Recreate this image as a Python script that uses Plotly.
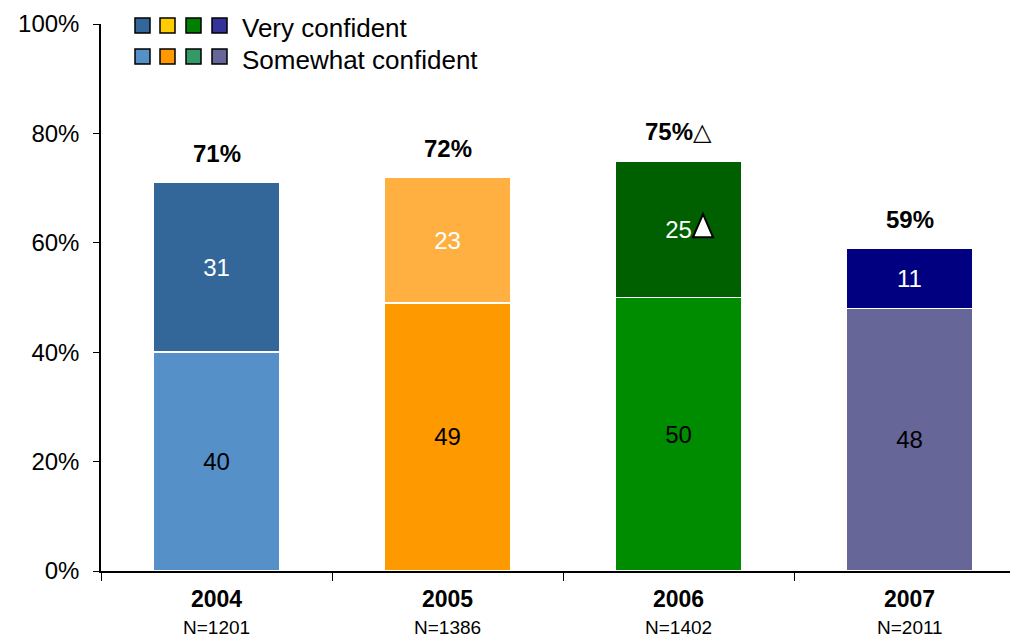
import plotly.graph_objects as go

# Survey results: share confident, by year
years = ["2004", "2005", "2006", "2007"]
sample_sizes = ["N=1201", "N=1386", "N=1402", "N=2011"]
somewhat = [40, 49, 50, 48]
very = [31, 23, 25, 11]
totals = [71, 72, 75, 59]
total_labels = ["71%", "72%", "75%△", "59%"]
y_ticks = [0, 20, 40, 60, 80, 100]

somewhat_colors = ["#5590C8", "#FF9900", "#008C00", "#666699"]
very_colors = ["#336699", "#FFB040", "#006000", "#000080"]

legend_very = ["#336699", "#FFCC00", "#008000", "#333399"]
legend_somewhat = ["#5591C9", "#FF9900", "#339966", "#666699"]

FONT = "Liberation Sans, Arial, DejaVu Sans, sans-serif"

fig = go.Figure()
fig.add_trace(go.Bar(
    x=years, y=somewhat, name="Somewhat confident",
    marker=dict(color=somewhat_colors, line=dict(color="white", width=1.5)),
    text=[str(v) for v in somewhat], textposition="inside",
    insidetextanchor="middle", textangle=0,
    textfont=dict(color="black", size=24, family=FONT),
    width=0.545, showlegend=False,
))
fig.add_trace(go.Bar(
    x=years, y=very, name="Very confident",
    marker=dict(color=very_colors, line=dict(color="white", width=1.5)),
    text=[str(v) for v in very], textposition="inside",
    insidetextanchor="middle", textangle=0,
    textfont=dict(color="white", size=24, family=FONT),
    width=0.545, showlegend=False,
))

annotations = []
# Totals above each bar (category axis positions are given as indices)
for i, (tot, lab) in enumerate(zip(totals, total_labels)):
    if "△" in lab:
        txt = "<b>" + lab.replace("△", "") + "</b>△"
    else:
        txt = "<b>" + lab + "</b>"
    annotations.append(dict(
        x=i, y=tot, xref="x", yref="y", text=txt, showarrow=False,
        yanchor="middle", yshift=29, font=dict(size=24, color="black", family=FONT),
    ))

# Sample size under each year label
for i, n in enumerate(sample_sizes):
    annotations.append(dict(
        x=i, y=0, xref="x", yref="paper", text=n, showarrow=False,
        yanchor="middle", yshift=-56, font=dict(size=19, color="black", family=FONT),
    ))

# Significance marker next to the 2006 "very confident" value
i2006 = years.index("2006")
mid_2006 = somewhat[i2006] + very[i2006] / 2

# Legend: four colour swatches per row, then the label
L, T, W, H = 101, 24, 909, 547
def px_x(p):
    return (p - L) / W
def px_y(p):
    return (T + H - p) / H

shapes = [dict(
    type="path", xref="x", yref="y",
    xsizemode="pixel", ysizemode="pixel",
    xanchor=i2006, yanchor=mid_2006,
    path="M 14.5,-8 L 34.5,-8 L 24.5,15 Z",
    fillcolor="white", line=dict(color="black", width=2), layer="above",
)]
swatch_x = [135, 160, 186, 212]
for row_top, colors in ((18, legend_very), (49, legend_somewhat)):
    for sx, c in zip(swatch_x, colors):
        shapes.append(dict(
            type="rect", xref="paper", yref="paper",
            x0=px_x(sx), x1=px_x(sx + 15), y0=px_y(row_top + 15), y1=px_y(row_top),
            fillcolor=c, line=dict(color="black", width=1.5), layer="above",
        ))
for text, cy in (("Very confident", 28), ("Somewhat confident", 60)):
    annotations.append(dict(
        x=px_x(240), y=px_y(cy), xref="paper", yref="paper", text=text,
        showarrow=False, xanchor="left", yanchor="middle",
        font=dict(size=26, color="black", family=FONT),
    ))

fig.update_layout(
    barmode="stack",
    width=1010, height=637,
    margin=dict(l=L, r=0, t=T, b=637 - T - H),
    paper_bgcolor="white", plot_bgcolor="white",
    font=dict(family=FONT, color="black"),
    annotations=annotations, shapes=shapes,
    xaxis=dict(
        type="category", range=[-0.5, 3.435],
        tickmode="array", tickvals=years,
        ticktext=[f"<b>{y}</b>" for y in years],
        tickson="boundaries", ticks="outside", ticklen=8, tickcolor="black",
        showline=True, linecolor="black", linewidth=1.5,
        showgrid=False, tickfont=dict(size=23, color="black", family=FONT),
        ticklabelstandoff=7,
        fixedrange=True,
    ),
    yaxis=dict(
        range=[0, 100], tickmode="array", tickvals=y_ticks,
        ticktext=[f"{v}%" for v in y_ticks],
        ticks="outside", ticklen=6, tickcolor="black",
        showline=True, linecolor="black", linewidth=1.5,
        showgrid=False, zeroline=False,
        tickfont=dict(size=24, color="black", family=FONT),
        ticklabelstandoff=9,
    ),
)

fig.write_html("out.html")
